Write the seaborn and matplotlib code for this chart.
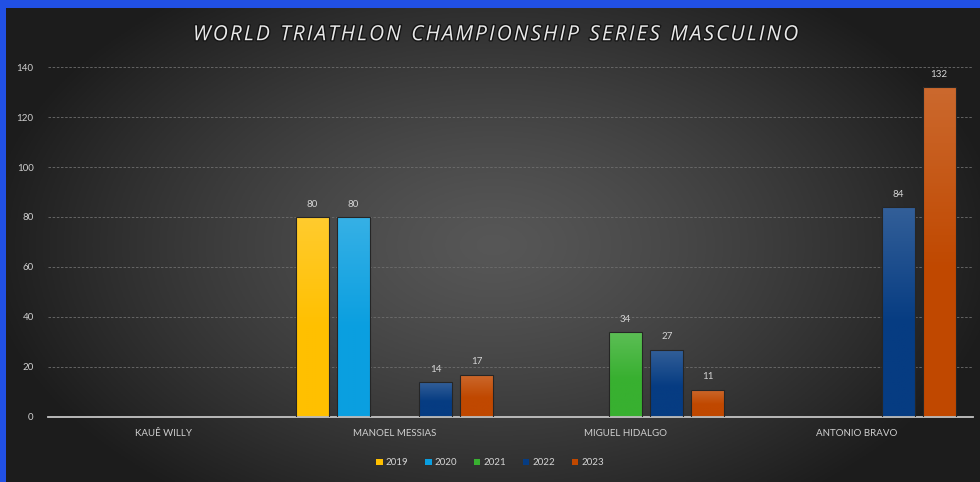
import numpy as np
import pandas as pd
import matplotlib
matplotlib.use("Agg")
import matplotlib.pyplot as plt
import matplotlib.patheffects as pe
from matplotlib.colors import to_rgb
import seaborn as sns

# data
players = ["KAUÊ WILLY", "MANOEL MESSIAS", "MIGUEL HIDALGO", "ANTONIO BRAVO"]
years = ["2019", "2020", "2021", "2022", "2023"]
v2019 = [np.nan, 80, np.nan, np.nan]
v2020 = [np.nan, 80, np.nan, np.nan]
v2021 = [np.nan, np.nan, 34, np.nan]
v2022 = [np.nan, 14, 27, 84]
v2023 = [np.nan, 17, 11, 132]
colors = ["#FFC000", "#0A9FE0", "#38B030", "#063C82", "#C04800"]

rows = []
for yr, vals in zip(years, [v2019, v2020, v2021, v2022, v2023]):
    for p, v in zip(players, vals):
        if not np.isnan(v):
            rows.append({"player": p, "year": yr, "points": v})
df = pd.DataFrame(rows)

sns.set_style("dark")
plt.rcParams["font.family"] = ["Lato", "DejaVu Sans"]

fig = plt.figure(figsize=(9.8, 4.82), dpi=100)
fig.patch.set_facecolor("#2150E4")

# radial gradient background
bg = fig.add_axes([6 / 980, 0, 1 - 6 / 980, 1 - 8 / 482])
bg.set_axis_off()
gx, gy = np.meshgrid(np.linspace(-1, 1, 400), np.linspace(-1, 1, 200))
r = np.clip(np.sqrt((gx * 0.95) ** 2 + (gy * 0.75) ** 2), 0, 1)
shade = 0.34 - 0.23 * r ** 1.3
bg.imshow(np.dstack([shade, shade, shade]), aspect="auto", extent=[0, 1, 0, 1])

ax = fig.add_axes([47.5 / 980, 65 / 482, 925 / 980, 350 / 482])
ax.patch.set_alpha(0)

sns.barplot(data=df, x="player", y="points", hue="year", order=players,
            hue_order=years, palette=colors, width=0.89, gap=0.2,
            saturation=1, ax=ax, legend=True)

# gradient fill on every bar
for bar in ax.patches:
    h = bar.get_height()
    if h is None or np.isnan(h) or h <= 0:
        continue
    base = np.array(to_rgb(bar.get_facecolor()))
    light = base + (1 - base) * 0.18
    t = np.linspace(0, 1, 100)[:, None]
    w = np.clip(t / 0.55, 0, 1)
    grad = light * (1 - w) + base * w
    x0, y0 = bar.get_x(), bar.get_y()
    im = ax.imshow(grad[:, None, :], aspect="auto", zorder=2.5,
                   extent=[x0, x0 + bar.get_width(), y0, y0 + h])
    im.set_clip_path(bar)
    bar.set_facecolor("none")
    bar.set_edgecolor("#262626")
    bar.set_linewidth(0.8)
    bar.set_zorder(3)

for cont in ax.containers:
    ax.bar_label(cont, fmt="%.0f", padding=6, fontsize=7, color="#d4d4d4")

ax.set_xlim(-0.5, 3.5)
ax.set_ylim(0, 140)
ax.set_yticks(range(0, 141, 20))
ax.set_xlabel("")
ax.set_ylabel("")
ax.grid(axis="y", color="#6e6e6e", linestyle=(0, (3, 2)), linewidth=0.6)
ax.grid(axis="x", visible=False)
for s in ["top", "right", "left"]:
    ax.spines[s].set_visible(False)
ax.spines["bottom"].set_color("#c4c4c4")
ax.spines["bottom"].set_linewidth(1.3)
ax.tick_params(axis="y", colors="#cfcfcf", labelsize=7, length=0, pad=10)
ax.tick_params(axis="x", colors="#cfcfcf", labelsize=7, length=0, pad=9)

leg = ax.legend(loc="lower center", bbox_to_anchor=(0.5, 0.012), bbox_transform=fig.transFigure,
                ncol=5, frameon=False, fontsize=7, handlelength=0.7, handleheight=0.7,
                handletextpad=0.3, columnspacing=1.7, labelcolor="#d4d4d4")
for hnd in leg.legend_handles:
    hnd.set_edgecolor("none")

title = "WORLD TRIATHLON CHAMPIONSHIP SERIES MASCULINO"
spaced = "\u2002".join("\u200a".join(w) for w in title.split(" "))
fig.text(0.507, 0.928, spaced,
         ha="center", va="center", fontsize=15, style="italic", color="#e8e8e8",
         family=["Open Sans", "DejaVu Sans"],
         path_effects=[pe.withStroke(linewidth=2, foreground="#151515")])

fig.savefig("out.png", dpi=100, facecolor=fig.get_facecolor())
